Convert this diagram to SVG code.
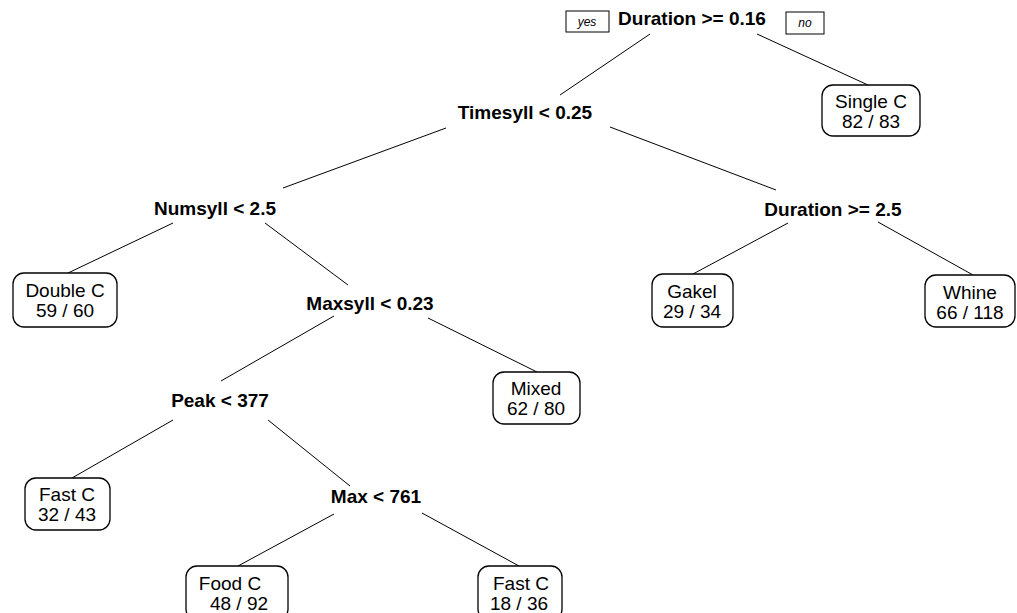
<svg xmlns="http://www.w3.org/2000/svg" width="1017" height="613" viewBox="0 0 1017 613">
<style>
.split{font-family:"Liberation Sans",Arial,sans-serif;font-weight:bold;font-size:19px;text-anchor:middle;fill:#000}
.leaf{font-family:"Liberation Sans",Arial,sans-serif;font-size:19px;text-anchor:middle;fill:#000}
.box{fill:#fff;stroke:#000;stroke-width:1.3}
.tag{fill:#fff;stroke:#000;stroke-width:1}
.tagt{font-family:"Liberation Sans",Arial,sans-serif;font-style:italic;font-size:12px;text-anchor:middle;fill:#000}
.edge{stroke:#000;stroke-width:1;fill:none}
</style>
<rect width="1017" height="613" fill="#fff"/>
<g id="connectors">
<line class="edge" x1="650" y1="34" x2="560" y2="95"/>
<line class="edge" x1="757" y1="34" x2="868" y2="85"/>
<line class="edge" x1="446" y1="128" x2="283" y2="188"/>
<line class="edge" x1="610" y1="127" x2="776" y2="190"/>
<line class="edge" x1="173" y1="223" x2="68" y2="273"/>
<line class="edge" x1="265" y1="223" x2="348" y2="285"/>
<line class="edge" x1="788" y1="223" x2="693" y2="274"/>
<line class="edge" x1="878" y1="222" x2="973" y2="275"/>
<line class="edge" x1="334" y1="316" x2="221" y2="381"/>
<line class="edge" x1="428" y1="318" x2="537" y2="372"/>
<line class="edge" x1="173" y1="420" x2="72" y2="478"/>
<line class="edge" x1="268" y1="420" x2="350" y2="486"/>
<line class="edge" x1="334" y1="514" x2="238" y2="566"/>
<line class="edge" x1="422" y1="513" x2="519" y2="566"/>
</g>
<g id="n-root">
<text class="split" x="692" y="25">Duration &gt;= 0.16</text>
</g>
<g id="tag-yes">
<rect class="tag" x="566" y="11" width="43" height="21"/>
<text class="tagt" x="587" y="26">yes</text>
</g>
<g id="tag-no">
<rect class="tag" x="786" y="12" width="38" height="22"/>
<text class="tagt" x="805" y="27">no</text>
</g>
<g id="n-single">
<rect class="box" x="822" y="85" width="98" height="51" rx="11"/>
<text class="leaf" x="871" y="108">Single C</text>
<text class="leaf" x="871" y="128">82 / 83</text>
</g>
<g id="n-timesyll">
<text class="split" x="525" y="119">Timesyll &lt; 0.25</text>
</g>
<g id="n-numsyll">
<text class="split" x="215" y="215">Numsyll &lt; 2.5</text>
</g>
<g id="n-duration2">
<text class="split" x="833" y="216">Duration &gt;= 2.5</text>
</g>
<g id="n-double">
<rect class="box" x="13" y="273" width="104" height="54" rx="11"/>
<text class="leaf" x="65" y="297">Double C</text>
<text class="leaf" x="65" y="317">59 / 60</text>
</g>
<g id="n-maxsyll">
<text class="split" x="370" y="310">Maxsyll &lt; 0.23</text>
</g>
<g id="n-gakel">
<rect class="box" x="652" y="274" width="81" height="53" rx="11"/>
<text class="leaf" x="692" y="298">Gakel</text>
<text class="leaf" x="692" y="318">29 / 34</text>
</g>
<g id="n-whine">
<rect class="box" x="925" y="275" width="90" height="52" rx="11"/>
<text class="leaf" x="970" y="299">Whine</text>
<text class="leaf" x="970" y="319">66 / 118</text>
</g>
<g id="n-mixed">
<rect class="box" x="493" y="372" width="87" height="52" rx="11"/>
<text class="leaf" x="536" y="395">Mixed</text>
<text class="leaf" x="536" y="415">62 / 80</text>
</g>
<g id="n-peak">
<text class="split" x="220" y="407">Peak &lt; 377</text>
</g>
<g id="n-fastc1">
<rect class="box" x="25" y="478" width="85" height="52" rx="11"/>
<text class="leaf" x="67" y="501">Fast C</text>
<text class="leaf" x="67" y="521">32 / 43</text>
</g>
<g id="n-max">
<text class="split" x="376" y="503">Max &lt; 761</text>
</g>
<g id="n-food">
<rect class="box" x="186" y="566" width="102" height="54" rx="11"/>
<text class="leaf" x="230" y="590">Food C</text>
<text class="leaf" x="239" y="610">48 / 92</text>
</g>
<g id="n-fastc2">
<rect class="box" x="478" y="566" width="84" height="54" rx="11"/>
<text class="leaf" x="521" y="590">Fast C</text>
<text class="leaf" x="519" y="610">18 / 36</text>
</g>
</svg>
